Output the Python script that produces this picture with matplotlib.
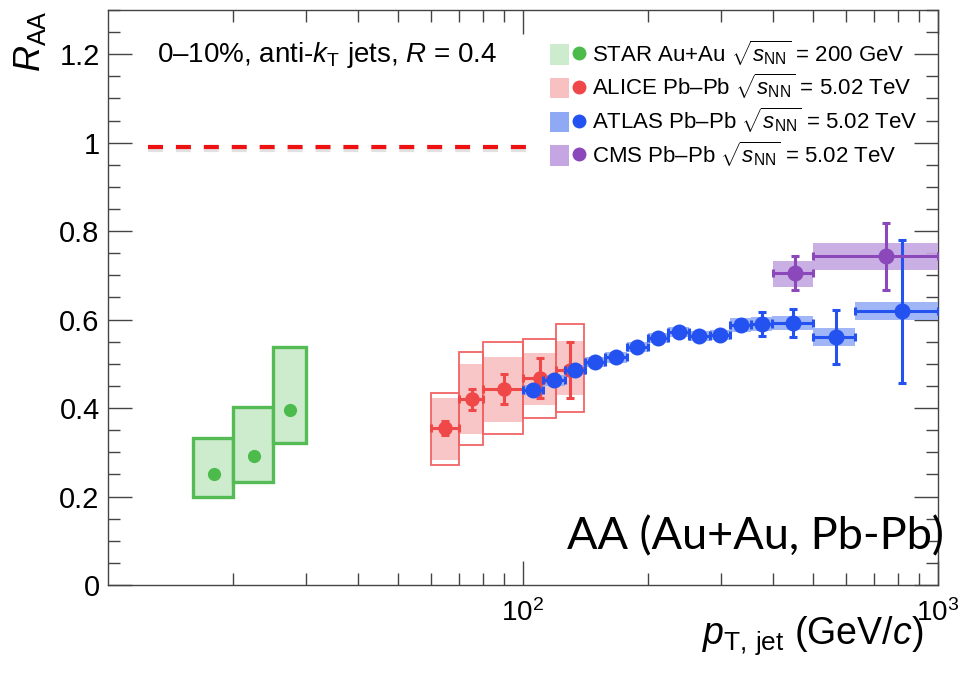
import numpy as np
import matplotlib
matplotlib.use('Agg')
import matplotlib.pyplot as plt
from matplotlib.patches import Patch
from matplotlib.lines import Line2D
from matplotlib.legend_handler import HandlerTuple
from matplotlib.ticker import FixedLocator, NullFormatter, FixedFormatter

plt.rcParams['font.family'] = ['Liberation Sans', 'DejaVu Sans']
plt.rcParams['mathtext.fontset'] = 'custom'
plt.rcParams['mathtext.rm'] = 'Liberation Sans'
plt.rcParams['mathtext.it'] = 'Liberation Sans:italic'
plt.rcParams['mathtext.bf'] = 'Liberation Sans:bold'

# ---------------- data ----------------
# STAR Au+Au 200 GeV
star_pt = [18.0, 22.5, 27.5]
star_lo = [16, 20, 25]
star_hi = [20, 25, 30]
star_raa = [0.25, 0.292, 0.395]
star_sys_lo = [0.200, 0.233, 0.320]
star_sys_hi = [0.332, 0.402, 0.538]

# ALICE Pb-Pb 5.02 TeV
alice_pt = [65, 75.5, 90, 110, 130]
alice_lo = [60, 70, 80, 100, 120]
alice_hi = [70, 80, 100, 120, 140]
alice_raa = [0.355, 0.420, 0.443, 0.468, 0.486]
alice_stat = [0.015, 0.024, 0.034, 0.046, 0.063]
alice_shape_lo = [0.282, 0.341, 0.368, 0.407, 0.429]
alice_shape_hi = [0.423, 0.499, 0.515, 0.524, 0.551]
alice_corr_lo = [0.271, 0.316, 0.341, 0.377, 0.391]
alice_corr_hi = [0.434, 0.527, 0.549, 0.556, 0.590]

# ATLAS Pb-Pb 5.02 TeV
atlas_pt = [105.8, 118.8, 133.3, 149.3, 167.7, 188.7, 211.7, 237.1, 266.1,
            298.5, 335, 376, 447, 568, 818]
atlas_lo = [100, 112, 126, 141, 158, 178, 200, 224, 251, 282, 316, 355, 398, 501, 631]
atlas_hi = [112, 126, 141, 158, 178, 200, 224, 251, 282, 316, 355, 398, 501, 631, 1000]
atlas_raa = [0.441, 0.463, 0.486, 0.504, 0.515, 0.538, 0.558, 0.572, 0.563,
             0.565, 0.588, 0.590, 0.592, 0.560, 0.619]
atlas_stat = [0.008, 0.008, 0.008, 0.008, 0.008, 0.008, 0.008, 0.008, 0.008,
              0.008, 0.012, 0.027, 0.031, 0.061, 0.162]
atlas_sys = [0.012, 0.012, 0.012, 0.012, 0.012, 0.012, 0.012, 0.012, 0.012,
             0.012, 0.016, 0.016, 0.016, 0.020, 0.020]

# CMS Pb-Pb 5.02 TeV
cms_pt = [452, 750]
cms_lo = [400, 500]
cms_hi = [500, 1000]
cms_raa = [0.705, 0.743]
cms_stat = [0.038, 0.076]
cms_sys_lo = [0.673, 0.712]
cms_sys_hi = [0.732, 0.773]

# ---------------- colours ----------------
c_star, f_star, e_star = '#4cbb4c', '#cdeccd', '#55bb55'
c_alice, f_alice, e_alice = '#f04848', '#f8c0c0', '#f06464'
c_atlas, f_atlas = '#2452f0', '#8fa9f5'
c_cms, f_cms = '#8a48bb', '#c5a6e2'

fig = plt.figure(figsize=(9.62, 6.81), dpi=100)
ax = fig.add_axes([0.1123, 0.141, 0.8627, 0.8443])
ax.set_xscale('log')
ax.set_xlim(10, 1000)
ax.set_ylim(0, 1.3)

def arr(a):
    return np.asarray(a, dtype=float)

# STAR boxes
ax.bar(arr(star_lo), arr(star_sys_hi) - arr(star_sys_lo), width=arr(star_hi) - arr(star_lo),
       bottom=arr(star_sys_lo), align='edge', facecolor=f_star, edgecolor=e_star,
       linewidth=2.4, zorder=2)
ax.plot(star_pt, star_raa, 'o', color=c_star, ms=9.5, mec='none', zorder=5)

# ALICE boxes
ax.bar(arr(alice_lo), arr(alice_shape_hi) - arr(alice_shape_lo), width=arr(alice_hi) - arr(alice_lo),
       bottom=arr(alice_shape_lo), align='edge', facecolor=f_alice, edgecolor='none',
       linewidth=0, zorder=2, alpha=0.9)
ax.bar(arr(alice_lo), arr(alice_corr_hi) - arr(alice_corr_lo), width=arr(alice_hi) - arr(alice_lo),
       bottom=arr(alice_corr_lo), align='edge', facecolor='none', edgecolor=e_alice,
       linewidth=1.3, zorder=2)
ap = arr(alice_pt)
ax.errorbar(ap, alice_raa, yerr=alice_stat,
            xerr=[ap - arr(alice_lo), arr(alice_hi) - ap],
            fmt='o', color=c_alice, ms=10.5, mec='none', elinewidth=2.2,
            capsize=3, capthick=2.2, zorder=5)

# ATLAS
tp = arr(atlas_pt)
ax.bar(arr(atlas_lo), 2 * arr(atlas_sys), width=arr(atlas_hi) - arr(atlas_lo),
       bottom=arr(atlas_raa) - arr(atlas_sys), align='edge', facecolor=f_atlas,
       edgecolor='none', alpha=0.85, zorder=3)
ax.errorbar(tp, atlas_raa, yerr=atlas_stat,
            xerr=[tp - arr(atlas_lo), arr(atlas_hi) - tp],
            fmt='o', color=c_atlas, ms=11.5, mec='none', elinewidth=2.2,
            capsize=3, capthick=2.2, zorder=6)

# CMS
cp = arr(cms_pt)
ax.bar(arr(cms_lo), arr(cms_sys_hi) - arr(cms_sys_lo), width=arr(cms_hi) - arr(cms_lo),
       bottom=arr(cms_sys_lo), align='edge', facecolor=f_cms, edgecolor='none',
       alpha=0.9, zorder=3)
ax.errorbar(cp, cms_raa, yerr=cms_stat,
            xerr=[cp - arr(cms_lo), arr(cms_hi) - cp],
            fmt='o', color=c_cms, ms=11.5, mec='none', elinewidth=2.2,
            capsize=3, capthick=2.2, zorder=6)

# dashed unity line (with faint shadow)
ax.plot([12.5, 102], [0.983, 0.983], color='#888888', lw=3, alpha=0.25,
        dashes=(3.6, 3.1), zorder=3, solid_capstyle='butt')
ax.plot([12.5, 102], [0.99, 0.99], color='#ee1111', lw=3, dashes=(3.6, 3.1),
        zorder=4, solid_capstyle='butt')

# ---------------- axes styling ----------------
ax.xaxis.set_major_locator(FixedLocator([100, 1000]))
ax.xaxis.set_major_formatter(FixedFormatter(['$10^2$', '$10^3$']))
ax.xaxis.set_minor_locator(FixedLocator([20, 30, 40, 50, 60, 70, 80, 90,
                                         200, 300, 400, 500, 600, 700, 800, 900]))
ax.xaxis.set_minor_formatter(NullFormatter())
ax.yaxis.set_major_locator(FixedLocator([0, 0.2, 0.4, 0.6, 0.8, 1.0, 1.2]))
ax.yaxis.set_major_formatter(FixedFormatter(['0', '0.2', '0.4', '0.6', '0.8', '1', '1.2']))
ax.yaxis.set_minor_locator(FixedLocator(np.arange(0, 1.31, 0.05)))

ax.tick_params(which='both', direction='in', top=True, right=True, color='#444444',
               width=1.0)
ax.tick_params(which='major', length=17)
ax.tick_params(which='minor', length=8.5)
ax.tick_params(axis='y', labelsize=21, pad=6)
ax.tick_params(axis='x', labelsize=20, pad=10)
for s in ax.spines.values():
    s.set_color('#444444')
    s.set_linewidth(1.0)

ax.set_ylabel(r'$R_{\rm AA}$', fontsize=26, loc='top', labelpad=8)
ax.set_xlabel(r'$p_{\rm T,\,jet}$ (GeV/$c$)', fontsize=27, loc='right', labelpad=-9)
ax.xaxis.label.set_x(0.982)

ax.text(0.059, 0.922, r'0–10%, anti-$k_{\rm T}$ jets, $R$ = 0.4', transform=ax.transAxes,
        fontsize=20, va='center', ha='left')

# legend
handles = [
    (Patch(facecolor=f_star, edgecolor='none'), Line2D([], [], marker='o', ls='none', color=c_star, ms=9)),
    (Patch(facecolor=f_alice, edgecolor='none'), Line2D([], [], marker='o', ls='none', color=c_alice, ms=9)),
    (Patch(facecolor=f_atlas, edgecolor='none'), Line2D([], [], marker='o', ls='none', color=c_atlas, ms=9)),
    (Patch(facecolor=f_cms, edgecolor='none'), Line2D([], [], marker='o', ls='none', color=c_cms, ms=9)),
]
labels = [r'STAR Au+Au $\sqrt{s_{\rm NN}}$ = 200 GeV',
          r'ALICE Pb–Pb $\sqrt{s_{\rm NN}}$ = 5.02 TeV',
          r'ATLAS Pb–Pb $\sqrt{s_{\rm NN}}$ = 5.02 TeV',
          r'CMS Pb–Pb $\sqrt{s_{\rm NN}}$ = 5.02 TeV']
leg = ax.legend(handles, labels, handler_map={tuple: HandlerTuple(ndivide=None)},
                loc='upper left', bbox_to_anchor=(0.5325, 0.951), frameon=False,
                fontsize=16, handlelength=1.75, handleheight=1.05, handletextpad=0.15,
                labelspacing=0.2, borderpad=0, borderaxespad=0)

# big annotation
fig.text(0.589, 0.211, 'AA (Au+Au, Pb-Pb)', fontsize=32.5, family=['Lato', 'DejaVu Sans'],
         ha='left', va='center', zorder=10)

fig.savefig('out.png', dpi=100)
